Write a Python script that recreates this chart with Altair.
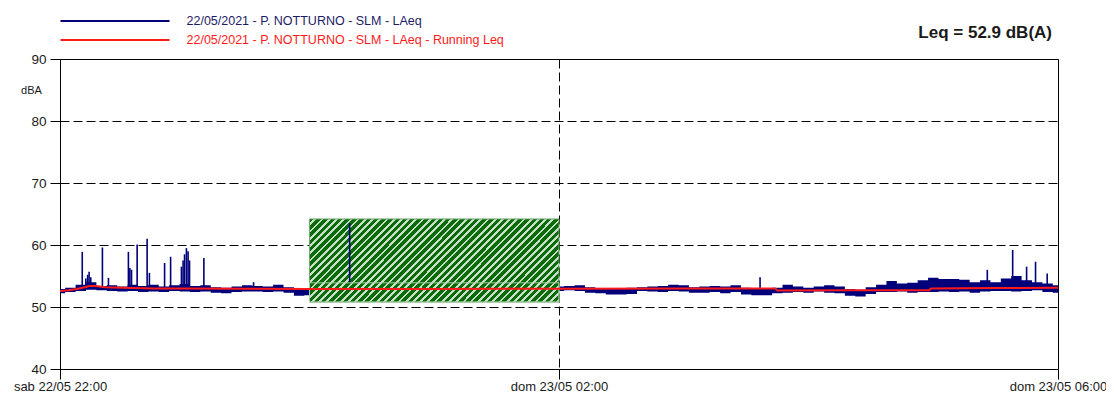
import altair as alt
import pandas as pd

# ---------------- data ----------------
# LAeq envelope, every 5 minutes from 22:00 (minute 0) to 06:00 (minute 480)
band_minutes = list(range(0, 481, 5))
band_lo = [
    52.2, 52.4, 52.6, 52.8, 52.7, 52.6, 52.5, 52.6, 52.4, 52.5, 52.4, 52.6,
    52.5, 52.4, 52.5, 52.3, 52.2, 52.4, 52.5, 52.5, 52.4, 52.5, 52.3, 51.8,
    51.9, 52.4, 52.3, 52.5, 52.4, 52.3, 52.5, 52.4, 52.3, 52.4, 52.5, 52.4,
    52.4, 52.3, 52.5, 52.4, 52.3, 52.4, 52.5, 52.4, 52.3, 52.4, 52.5, 52.4,
    52.6, 52.7, 52.6, 52.3, 52.2, 52.0, 52.0, 52.1, 52.6, 52.5, 52.4, 52.6,
    52.5, 52.3, 52.3, 52.4, 52.2, 52.4, 52.0, 51.9, 51.9, 52.2, 52.3, 52.4,
    52.3, 52.5, 52.3, 52.2, 51.8, 51.7, 52.1, 52.4, 52.4, 52.5, 52.3, 52.4,
    52.4, 52.5, 52.4, 52.5, 52.3, 52.5, 52.6, 52.6, 52.5, 52.6, 52.7, 52.4,
    52.3,
]
band_hi = [
    52.9, 53.1, 53.6, 54.0, 53.4, 53.5, 53.3, 53.6, 53.4, 53.6, 53.3, 53.5,
    53.7, 53.4, 53.5, 53.2, 53.1, 53.3, 53.5, 53.4, 53.3, 53.6, 53.2, 52.9,
    53.0, 53.2, 53.3, 53.1, 53.2, 53.4, 53.2, 53.3, 53.1, 53.2, 53.3, 53.2,
    53.2, 53.3, 53.1, 53.2, 53.4, 53.2, 53.3, 53.1, 53.2, 53.3, 53.2, 53.3,
    53.3, 53.4, 53.5, 53.2, 53.0, 53.0, 53.0, 53.1, 53.2, 53.3, 53.4, 53.6,
    53.5, 53.2, 53.3, 53.4, 53.3, 53.5, 53.1, 53.0, 53.0, 53.1, 53.6, 53.3,
    53.1, 53.3, 53.5, 53.3, 52.9, 52.8, 53.2, 53.6, 54.2, 53.8, 53.9, 54.3,
    54.7, 54.5, 54.5, 54.4, 54.0, 54.3, 54.0, 54.6, 55.0, 54.3, 54.0, 53.8,
    53.5,
]

# isolated peaks (minute, peak level, level at the foot of the peak)
spike_minutes = [10.7, 12.4, 13.3, 14.0, 14.8, 20.4, 23.3, 32.9, 33.6, 34.4,
                 37.1, 41.9, 43.0, 50.3, 53.2, 58.4, 59.2, 59.9, 60.8, 61.6,
                 62.3, 69.2, 93.1, 139.3, 336.7, 446.0, 458.2, 464.9, 469.2, 474.8]
spike_peak = [58.9, 54.6, 55.2, 55.7, 54.8, 59.6, 54.7, 58.9, 56.3, 56.0,
              60.1, 61.0, 55.5, 57.1, 58.1, 56.5, 57.5, 58.5, 59.5, 59.0,
              57.5, 57.9, 54.0, 63.5, 54.8, 56.0, 59.2, 56.5, 57.3, 55.4]
spike_base = [53.2, 53.4, 53.4, 53.4, 53.4, 53.0, 53.0, 53.0, 53.0, 53.0,
              53.0, 53.0, 53.0, 53.0, 53.0, 53.0, 53.0, 53.0, 53.0, 53.0,
              53.0, 53.0, 53.0, 54.0, 53.0, 53.5, 53.5, 53.5, 53.5, 53.5]

# running Leq
leq_minutes = [0, 4, 8, 12, 14, 17, 22, 30, 45, 60, 90, 120, 180, 240, 300,
               344, 345, 380, 418, 419, 450, 480]
leq_values = [52.6, 52.7, 52.9, 53.2, 53.4, 53.4, 53.2, 53.1, 53.0, 53.0, 52.95,
              52.9, 52.9, 52.95, 53.0, 53.0, 52.65, 52.7, 52.7, 53.0, 53.05, 53.1]

# masked (excluded) period 00:00 - 02:00
mask_start = [120]
mask_end = [240]
mask_lo = [50.8]
mask_hi = [64.2]
mask_split = [53.9]

y_ticks = [40, 50, 60, 70, 80, 90]
x_tick_minutes = [0, 240, 480]
x_tick_labels = ["sab 22/05 22:00", "dom 23/05 02:00", "dom 23/05 06:00"]
legend_labels = ["22/05/2021 - P. NOTTURNO - SLM - LAeq",
                 "22/05/2021 - P. NOTTURNO - SLM - LAeq - Running Leq"]
leq_text = "Leq = 52.9 dB(A)"

# ---------------- styling ----------------
FONT = "Liberation Sans"
NAVY = "#00007a"
RED = "#ff1a1a"
GREEN = "#0b6b0b"
LIGHT = "#c8dfc8"

band_df = pd.DataFrame({"m": band_minutes, "lo": band_lo, "hi": band_hi})
spike_df = pd.DataFrame({"m": spike_minutes, "peak": spike_peak, "base": spike_base})
leq_df = pd.DataFrame({"m": leq_minutes, "v": leq_values})
mask_df = pd.DataFrame({"m0": mask_start, "m1": mask_end, "lo": mask_lo, "hi": mask_hi})
split_df = pd.DataFrame({"m0": mask_start, "m1": mask_end, "lo": mask_lo, "hi": mask_split})

label_expr = " : ".join(
    f"datum.value == {m} ? '{lab}'" for m, lab in zip(x_tick_minutes[:-1], x_tick_labels[:-1])
) + f" : '{x_tick_labels[-1]}'"

xscale = alt.Scale(domain=[0, 480], nice=False, zero=False)
yscale = alt.Scale(domain=[40, 90], nice=False, zero=False)

xaxis = alt.Axis(values=x_tick_minutes, labelExpr=label_expr, title=None,
                 grid=True, gridDash=[9, 4], gridColor="black", gridOpacity=1,
                 domainColor="black", tickColor="black", tickSize=10,
                 labelPadding=1, labelFlush=False, labelOverlap=False, labelBound=False,
                 labelFont=FONT, labelFontSize=13, labelColor="#1a1a1a")
yaxis = alt.Axis(values=y_ticks, title="dBA", titleAngle=0, titleX=-29, titleY=31,
                 titleAlign="center", titleBaseline="middle", titleFont=FONT,
                 titleFontSize=11, titleFontWeight="normal", titleColor="#1a1a1a",
                 grid=True, gridDash=[9, 4], gridColor="black", gridOpacity=1,
                 domainColor="black", tickColor="black", tickSize=10, labelPadding=4,
                 labelFont=FONT, labelFontSize=13.5, labelColor="#1a1a1a")

band = alt.Chart(band_df).mark_area(interpolate="step", color=NAVY).encode(
    x=alt.X("m:Q", scale=xscale, axis=xaxis),
    y=alt.Y("lo:Q", scale=yscale, axis=yaxis),
    y2="hi:Q",
)

n = 48
stops = []
for i in range(n):
    a, b, c = i / n, (i + 0.62) / n, (i + 1) / n
    stops += [{"offset": a, "color": GREEN}, {"offset": b, "color": GREEN},
              {"offset": b, "color": LIGHT}, {"offset": c, "color": LIGHT}]
hatch = {"gradient": "linear", "x1": 0, "y1": 0, "x2": 1.25, "y2": 0.415, "stops": stops}

mask = alt.Chart(mask_df).mark_rect(fill=hatch, stroke="#6fa86f", strokeWidth=1).encode(
    x=alt.X("m0:Q", scale=xscale, axis=xaxis), x2="m1:Q",
    y=alt.Y("lo:Q", scale=yscale, axis=yaxis), y2="hi:Q",
)
split = alt.Chart(split_df).mark_rect(fillOpacity=0, stroke="#a8cfa8", strokeWidth=1).encode(
    x=alt.X("m0:Q", scale=xscale, axis=xaxis), x2="m1:Q",
    y=alt.Y("lo:Q", scale=yscale, axis=yaxis), y2="hi:Q",
)

spikes = alt.Chart(spike_df).mark_rule(color=NAVY, strokeWidth=1.6).encode(
    x=alt.X("m:Q", scale=xscale, axis=xaxis),
    y=alt.Y("base:Q", scale=yscale, axis=yaxis), y2="peak:Q",
)

leq = alt.Chart(leq_df).mark_line(color=RED, strokeWidth=2).encode(
    x=alt.X("m:Q", scale=xscale, axis=xaxis),
    y=alt.Y("v:Q", scale=yscale, axis=yaxis),
)

leg_colors = [NAVY, RED]
leg_text_colors = ["#1c1c66", RED]
leg_y = [-38, -19]
legend_layers = []
for lab, col, tcol, yy in zip(legend_labels, leg_colors, leg_text_colors, leg_y):
    d = pd.DataFrame({"label": [lab]})
    legend_layers.append(
        alt.Chart(d).mark_rule(color=col, strokeWidth=2).encode(
            x=alt.value(0.5), x2=alt.value(109.5), y=alt.value(yy))
    )
    legend_layers.append(
        alt.Chart(d).mark_text(align="left", baseline="middle", font=FONT,
                               fontSize=12.5, color=tcol).encode(
            x=alt.value(126.5), y=alt.value(yy), text="label:N")
    )

leq_label = alt.Chart(pd.DataFrame({"t": [leq_text]})).mark_text(
    align="right", baseline="middle", font=FONT, fontSize=17, fontWeight="bold",
    color="#1a1a1a").encode(x=alt.value(992), y=alt.value(-26), text="t:N")

chart = alt.layer(band, mask, split, spikes, leq, *legend_layers, leq_label).properties(
    width=998, height=310,
    background="white",
    autosize=alt.AutoSizeParams(type="none"),
    padding={"left": 52, "top": 51, "right": 48, "bottom": 26},
).configure_view(stroke="black", strokeWidth=1)

chart.save("out.html", embed_options={"renderer": "svg", "actions": False})
